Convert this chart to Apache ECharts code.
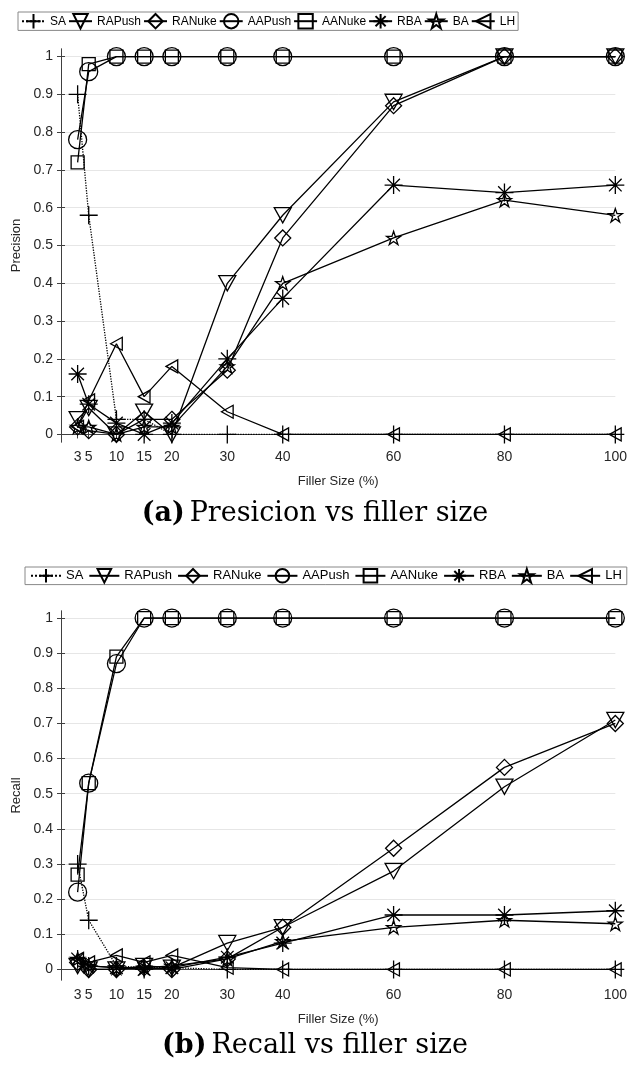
<!DOCTYPE html>
<html>
<head>
<meta charset="utf-8">
<script src="https://cdn.jsdelivr.net/npm/echarts@6/dist/echarts.min.js"></script>
<style>
  html, body { margin: 0; padding: 0; background: #fff; }
  #chart { width: 630px; height: 1073px; }
</style>
</head>
<body>
<div id="chart"></div>
<script>
// x 轴：填充大小
const fillerSizes = [3, 5, 10, 15, 20, 30, 40, 60, 80, 100];
const yTicks = [0, 0.1, 0.2, 0.3, 0.4, 0.5, 0.6, 0.7, 0.8, 0.9, 1];
const seriesNames = ['SA', 'RAPush', 'RANuke', 'AAPush', 'AANuke', 'RBA', 'BA', 'LH'];

// (a) Precision
const precSA     = [0.90, 0.58, 0.04, 0.04, 0.00, 0, 0, 0, 0, 0];
const precRAPush = [0.04, 0.07, 0.00, 0.06, 0.00, 0.40, 0.58, 0.88, 1, 1];
const precRANuke = [0.02, 0.01, 0.00, 0.04, 0.04, 0.17, 0.52, 0.87, 1, 1];
const precAAPush = [0.78, 0.96, 1, 1, 1, 1, 1, 1, 1, 1];
const precAANuke = [0.72, 0.98, 1, 1, 1, 1, 1, 1, 1, 1];
const precRBA    = [0.16, 0.08, 0.03, 0.00, 0.03, 0.20, 0.36, 0.66, 0.64, 0.66];
const precBA     = [0.02, 0.02, 0.00, 0.02, 0.02, 0.18, 0.40, 0.52, 0.62, 0.58];
const precLH     = [0.02, 0.09, 0.24, 0.10, 0.18, 0.06, 0, 0, 0, 0];

// (b) Recall
const recSA     = [0.30, 0.14, 0.01, 0.005, 0.005, 0, 0, 0, 0, 0];
const recRAPush = [0.01, 0.00, 0.00, 0.01, 0.005, 0.075, 0.12, 0.28, 0.52, 0.71];
const recRANuke = [0.02, 0.00, 0.00, 0.005, 0.00, 0.03, 0.12, 0.345, 0.575, 0.70];
const recAAPush = [0.22, 0.53, 0.87, 1, 1, 1, 1, 1, 1, 1];
const recAANuke = [0.27, 0.53, 0.89, 1, 1, 1, 1, 1, 1, 1];
const recRBA    = [0.03, 0.01, 0.005, 0.00, 0.005, 0.035, 0.075, 0.155, 0.155, 0.167];
const recBA     = [0.03, 0.01, 0.005, 0.005, 0.01, 0.03, 0.08, 0.12, 0.14, 0.13];
const recLH     = [0.03, 0.02, 0.04, 0.02, 0.04, 0.005, 0, 0, 0, 0];

const precisionData = [precSA, precRAPush, precRANuke, precAAPush, precAANuke, precRBA, precBA, precLH];
const recallData = [recSA, recRAPush, recRANuke, recAAPush, recAANuke, recRBA, recBA, recLH];

// 标记样式（MATLAB 风格）
const markerStyles = [
  { symbol: 'path://M0,10L20,10M10,0L10,20', size: 18 },
  { symbol: 'path://M0,0L20,0L10,18Z', size: 17 },
  { symbol: 'diamond', size: 16 },
  { symbol: 'circle', size: 18 },
  { symbol: 'rect', size: 13 },
  { symbol: 'path://M10,0L10,20M0,10L20,10M3,3L17,17M3,17L17,3', size: 18 },
  { symbol: 'path://M10,0L12.25,6.91L19.51,6.91L13.63,11.18L15.88,18.09L10,13.82L4.12,18.09L6.37,11.18L0.49,6.91L7.75,6.91Z', size: 14 },
  { symbol: 'path://M0,10L18,0L18,20Z', size: 13 },
];

const axisColor = '#404040';
const gridColor = '#e6e6e6';
const tickFont = { fontSize: 14, color: '#262626', fontFamily: 'Liberation Sans' };

const makeXAxes = (gridIndex) => [
  {
    type: 'value', gridIndex: gridIndex, position: 'bottom', min: 0, max: 100,
    name: 'Filler Size (%)', nameLocation: 'middle', nameGap: 33,
    nameTextStyle: { fontSize: 13, color: '#262626', fontFamily: 'Liberation Sans' },
    axisLine: { show: true, lineStyle: { color: axisColor, width: 1 } },
    axisTick: { show: true, inside: true, length: 4, customValues: fillerSizes, lineStyle: { color: axisColor } },
    axisLabel: Object.assign({ customValues: fillerSizes, margin: 8 }, tickFont),
    splitLine: { show: false },
  },
  {
    type: 'value', gridIndex: gridIndex, position: 'top', min: 0, max: 100,
    axisLine: { show: true, lineStyle: { color: axisColor, width: 1 } },
    axisTick: { show: true, inside: true, length: 4, customValues: fillerSizes, lineStyle: { color: axisColor } },
    axisLabel: { show: false },
    splitLine: { show: false },
  },
];

const makeYAxes = (gridIndex, name, yMin) => [
  {
    type: 'value', gridIndex: gridIndex, position: 'left', min: yMin, max: 1.02,
    name: name, nameLocation: 'middle', nameGap: 34,
    nameTextStyle: { fontSize: 13, color: '#262626', fontFamily: 'Liberation Sans' },
    axisLine: { show: true, lineStyle: { color: axisColor, width: 1 } },
    axisTick: { show: true, inside: true, length: 4, customValues: yTicks, lineStyle: { color: axisColor } },
    axisLabel: Object.assign({ customValues: yTicks, margin: 8, formatter: (v) => String(v) }, tickFont),
    splitLine: { show: true, lineStyle: { color: gridColor, width: 1 } },
  },
  {
    type: 'value', gridIndex: gridIndex, position: 'right', min: yMin, max: 1.02,
    axisLine: { show: true, lineStyle: { color: axisColor, width: 1 } },
    axisTick: { show: true, inside: true, length: 4, customValues: yTicks, lineStyle: { color: axisColor } },
    axisLabel: { show: false },
    splitLine: { show: false },
  },
];

const makeSeries = (dataSets, gridIndex) => dataSets.map((vals, i) => ({
  name: seriesNames[i],
  type: 'line',
  xAxisIndex: gridIndex * 2,
  yAxisIndex: gridIndex * 2,
  data: fillerSizes.map((x, j) => [x, vals[j]]),
  symbol: markerStyles[i].symbol,
  symbolSize: markerStyles[i].size,
  symbolKeepAspect: true,
  showAllSymbol: true,
  clip: false,
  lineStyle: { color: '#000', width: 1.3, type: i === 0 ? 'dotted' : 'solid' },
  itemStyle: { color: 'rgba(0,0,0,0)', borderColor: '#000', borderWidth: 1.3 },
  emphasis: { disabled: true },
  z: 2 + i,
}));

const legendBase = {
  orient: 'horizontal',
  data: seriesNames,
  selectedMode: false,
  borderColor: '#888',
  borderWidth: 1,
  backgroundColor: '#fff',
};

const captionRich = {
  b: { fontFamily: 'DejaVu Serif', fontWeight: 'bold', fontSize: 27, color: '#000' },
  n: { fontFamily: 'DejaVu Serif', fontWeight: 'normal', fontSize: 27, color: '#000' },
};

const myChart = echarts.init(document.getElementById('chart'), null, { renderer: 'canvas' });
const option = {
  animation: false,
  backgroundColor: '#fff',
  title: [
    { text: '{b|(a)} {n|Presicion vs filler size}', left: 'center', top: 495, textStyle: { rich: captionRich } },
    { text: '{b|(b)} {n|Recall vs filler size}', left: 'center', top: 1027, textStyle: { rich: captionRich } },
  ],
  legend: [
    Object.assign({}, legendBase, {
      left: 18, top: 12, itemWidth: 23, itemHeight: 18, itemGap: 2, padding: [1, 3],
      textStyle: { color: '#000', fontFamily: 'Liberation Sans', fontSize: 12 },
    }),
    Object.assign({}, legendBase, {
      left: 25, top: 567, itemWidth: 30, itemHeight: 17, itemGap: 5, padding: [1, 5],
      textStyle: { color: '#000', fontFamily: 'Liberation Sans', fontSize: 13 },
    }),
  ],
  grid: [
    { left: 61, top: 49, width: 556, height: 393, containLabel: false },
    { left: 61, top: 611, width: 556, height: 369, containLabel: false },
  ],
  xAxis: [...makeXAxes(0), ...makeXAxes(1)],
  yAxis: [...makeYAxes(0, 'Precision', -0.02), ...makeYAxes(1, 'Recall', -0.03)],
  series: [...makeSeries(precisionData, 0), ...makeSeries(recallData, 1)],
};
myChart.setOption(option);
</script>
</body>
</html>
